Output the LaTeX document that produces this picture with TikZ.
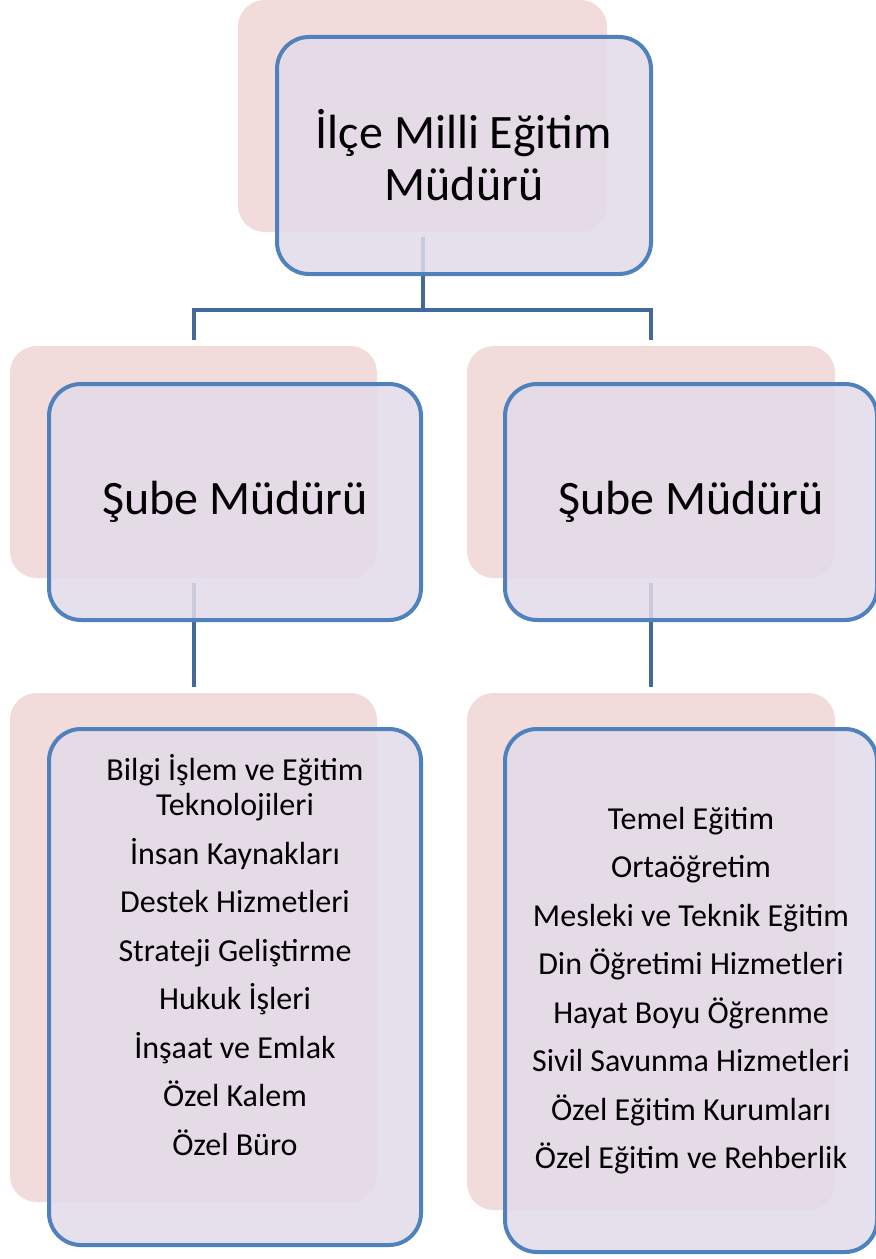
\documentclass[tikz,border=0pt]{standalone}
\usepackage{fontspec}
\setmainfont{Carlito}
\definecolor{backpink}{HTML}{F2DCDB}
\definecolor{frontfill}{HTML}{E2DBE9}
\definecolor{frontline}{HTML}{4F81BD}
\definecolor{linkblue}{HTML}{41699B}

\begin{document}
\begin{tikzpicture}[x=0.75pt, y=-0.75pt,
	back/.style={rectangle, rounded corners=20pt, fill=backpink, inner sep=0pt},
	front/.style={rectangle, rounded corners=24pt, draw=frontline, line width=3pt, fill=frontfill, fill opacity=0.85, text opacity=1, inner sep=0pt, align=center},
	big/.style={font=\fontsize{36}{39}\selectfont},
	small/.style={font=\fontsize{24}{26.4}\selectfont, align=center},
	link/.style={draw=linkblue, line width=3pt, shorten <=3.75pt, shorten >=4.5pt}]

		\useasboundingbox (0,0) rectangle (875,1259);

		\draw (422.5,116) node [back, minimum width=276.75pt, minimum height=174pt] (topback) {};
		\draw (193.5,462) node [back, minimum width=275.25pt, minimum height=174pt] (leftmidback) {};
		\draw (651,462) node [back, minimum width=276pt, minimum height=174pt] (rightmidback) {};
		\draw (193.5,947.5) node [back, minimum width=275.25pt, minimum height=381.75pt] (leftlowback) {};
		\draw (651,951.5) node [back, minimum width=276pt, minimum height=387.75pt] (rightlowback) {};

		\draw[link] (topback.south) -- ++(0,78) -| (leftmidback.north);
		\draw[link] (topback.south) -- ++(0,78) -| (rightmidback.north);
		\draw[link] (leftmidback.south) -- (leftlowback.north);
		\draw[link] (rightmidback.south) -- (rightlowback.north);

		\draw (464,155.5) node [front, big, minimum width=280.5pt, minimum height=177.75pt] (top) {İlçe Milli Eğitim\\Müdürü};
		\draw (235,502) node [front, big, minimum width=279pt, minimum height=177pt] (leftmid) {Şube Müdürü};
		\draw (691,502) node [front, big, minimum width=279pt, minimum height=177pt] (rightmid) {Şube Müdürü};
		\draw (235,987) node [front, minimum width=279pt, minimum height=387pt] (leftlow) {};
		\draw (691,990.5) node [front, small, minimum width=279pt, minimum height=392.25pt] (rightlow) {Temel Eğitim\\[10pt]Ortaöğretim\\[10pt]Mesleki ve Teknik Eğitim\\[10pt]Din Öğretimi Hizmetleri\\[10pt]Hayat Boyu Öğrenme\\[10pt]Sivil Savunma Hizmetleri\\[10pt]Özel Eğitim Kurumları\\[10pt]Özel Eğitim ve Rehberlik};

		\draw (235,955) node [small] (leftlist) {Bilgi İşlem ve Eğitim\\Teknolojileri\\[10pt]İnsan Kaynakları\\[10pt]Destek Hizmetleri\\[10pt]Strateji Geliştirme\\[10pt]Hukuk İşleri\\[10pt]İnşaat ve Emlak\\[10pt]Özel Kalem\\[10pt]Özel Büro};
	\end{tikzpicture}
\end{document}
